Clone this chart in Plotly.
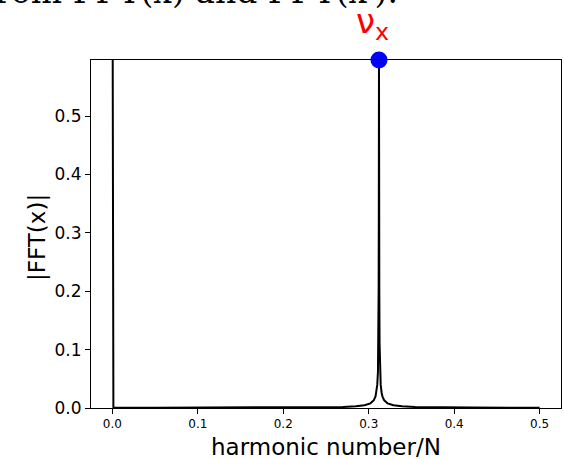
import plotly.graph_objects as go

# spectrum (harmonic number / N, |FFT(x)|)
harmonic = [0.0, 0.0012, 0.05, 0.10, 0.15, 0.20, 0.25, 0.27, 0.285, 0.295, 0.302,
            0.306, 0.308, 0.309, 0.310, 0.3108, 0.3113, 0.3116, 0.3118, 0.3120,
            0.3122, 0.3124, 0.3127, 0.3132, 0.3140, 0.315, 0.316, 0.318, 0.322,
            0.329, 0.339, 0.354, 0.374, 0.42, 0.47, 0.50]
fft_abs = [0.90, 0.0003, 0.0003, 0.0004, 0.0005, 0.0007, 0.0013, 0.0019, 0.0030,
           0.0047, 0.0080, 0.0133, 0.020, 0.027, 0.040, 0.062, 0.11, 0.20, 0.33,
           0.596, 0.33, 0.20, 0.11, 0.062, 0.040, 0.027, 0.020, 0.0133, 0.0080,
           0.0047, 0.0030, 0.0019, 0.0013, 0.0007, 0.0005, 0.0004]
tune_x = [0.312]
tune_y = [0.596]
x_ticks = [0.0, 0.1, 0.2, 0.3, 0.4, 0.5]
y_ticks = [0.0, 0.1, 0.2, 0.3, 0.4, 0.5]

W, H = 564, 459
L, R, T, B = 91, 3, 60, 51
pw, ph = W - L - R, H - T - B

def px_x(p):
    return (p - L) / pw

def px_y(p):
    return (H - B - p) / ph

fig = go.Figure()
fig.add_trace(go.Scatter(x=harmonic, y=fft_abs, mode="lines",
                         line=dict(color="black", width=2), showlegend=False,
                         hoverinfo="skip"))
fig.add_trace(go.Scatter(x=tune_x, y=tune_y, mode="markers",
                         marker=dict(color="blue", size=17), cliponaxis=False,
                         showlegend=False))

fig.add_annotation(text="ν<sub>x</sub>", x=tune_x[0], y=1, xref="x", yref="paper",
                   xanchor="center", yanchor="bottom", xshift=-6, yshift=12,
                   showarrow=False, font=dict(color="red", size=34, family="DejaVu Sans"))

fig.add_annotation(text="from FFT(x) and FFT(x′).", x=px_x(400), y=px_y(12), xref="paper", yref="paper",
                   xanchor="right", yanchor="bottom", yshift=-1, showarrow=False,
                   font=dict(color="black", size=33, family="DejaVu Serif"))

fig.add_annotation(text="harmonic number/N", x=0.5, y=px_y(447), xref="paper", yref="paper",
                   xanchor="center", yanchor="middle", showarrow=False,
                   font=dict(color="black", size=23, family="DejaVu Sans"))
fig.add_annotation(text="|FFT(x)|", x=px_x(37), y=px_y(238), xref="paper", yref="paper",
                   xanchor="center", yanchor="middle", textangle=-90, showarrow=False,
                   font=dict(color="black", size=23, family="DejaVu Sans"))

fig.update_xaxes(range=[-0.025, 0.525], tickvals=x_ticks, ticktext=[f"{v:.1f}" for v in x_ticks],
                 showgrid=False, zeroline=False, showline=True, linecolor="black", linewidth=1,
                 mirror=True, ticks="outside", ticklen=5, tickcolor="black",
                 tickfont=dict(size=12, family="DejaVu Sans", color="black"))
fig.update_yaxes(range=[0, 0.596], tickvals=y_ticks, ticktext=[f"{v:.1f}" for v in y_ticks],
                 showgrid=False, zeroline=False, showline=True, linecolor="black", linewidth=1,
                 mirror=True, ticks="outside", ticklen=5, tickcolor="black",
                 tickfont=dict(size=17, family="DejaVu Sans", color="black"))

fig.update_layout(width=W, height=H, margin=dict(l=L, r=R, t=T, b=B),
                  plot_bgcolor="white", paper_bgcolor="white",
                  font=dict(family="DejaVu Sans"))
fig.write_html("out.html")
